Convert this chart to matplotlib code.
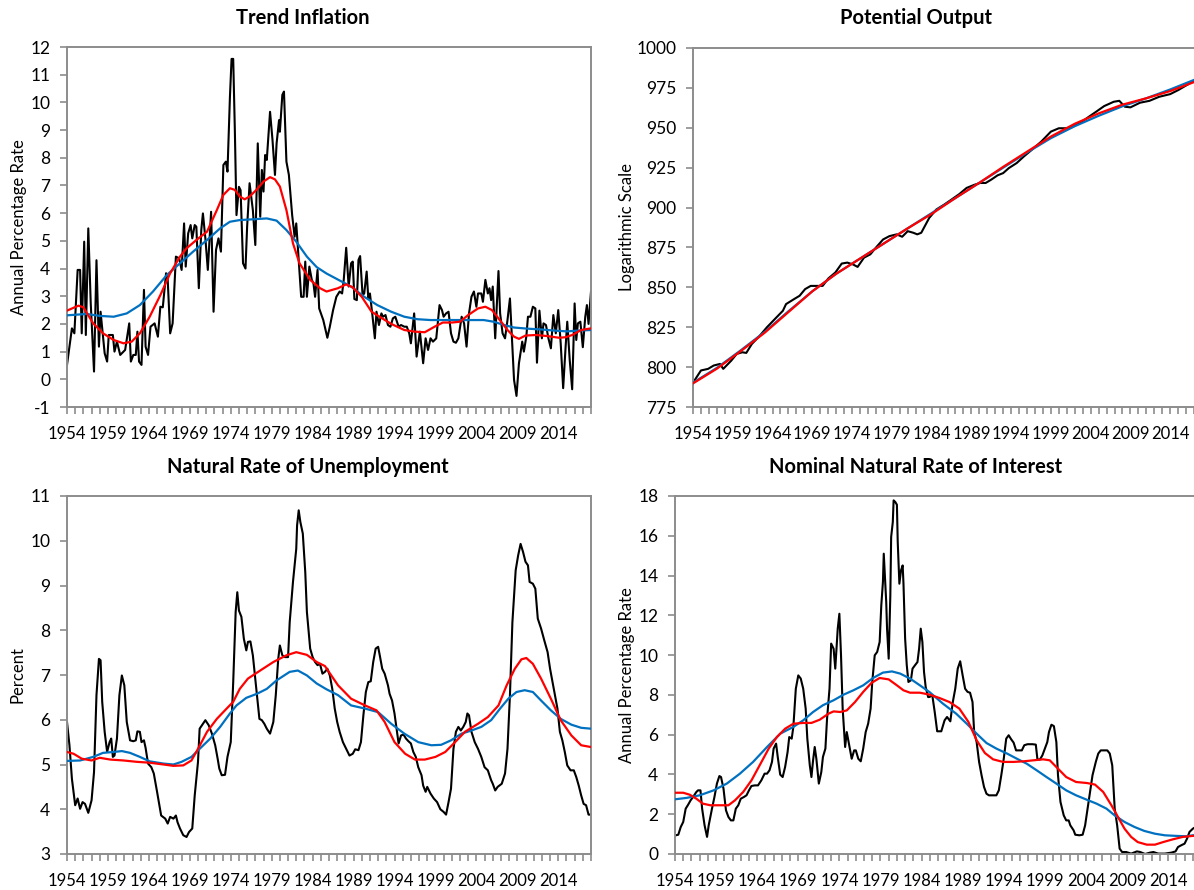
import matplotlib.pyplot as plt
import numpy as np

## Trend inflation, annual percentage rate
infl_actual_x = [1954.0, 1954.6, 1954.9, 1955.3, 1955.6, 1955.8, 1956.1, 1956.3, 1956.6, 1956.9,
                 1957.3, 1957.6, 1957.9, 1958.1, 1958.6, 1958.9, 1959.1, 1959.6, 1959.8, 1960.1,
                 1960.5, 1961.1, 1961.6, 1961.8, 1962.1, 1962.4, 1962.6, 1962.8, 1963.1, 1963.4,
                 1963.6, 1963.9, 1964.2, 1964.7, 1965.1, 1965.4, 1965.7, 1966.1, 1966.3, 1966.6,
                 1966.9, 1967.3, 1967.7, 1968.0, 1968.3, 1968.5, 1968.8, 1969.1, 1969.3, 1969.6,
                 1969.8, 1970.1, 1970.4, 1970.6, 1970.9, 1971.2, 1971.6, 1971.9, 1972.2, 1972.5,
                 1972.8, 1973.1, 1973.4, 1973.6, 1973.9, 1974.1, 1974.3, 1974.5, 1974.7, 1975.0,
                 1975.2, 1975.5, 1975.8, 1976.0, 1976.3, 1976.7, 1977.0, 1977.3, 1977.6, 1977.8,
                 1978.0, 1978.2, 1978.4, 1978.8, 1979.1, 1979.4, 1979.6, 1979.9, 1980.0, 1980.3,
                 1980.5, 1980.8, 1981.1, 1981.5, 1981.8, 1982.0, 1982.4, 1982.6, 1982.9, 1983.1,
                 1983.3, 1983.6, 1983.9, 1984.1, 1984.3, 1984.6, 1984.8, 1985.3, 1985.8, 1986.1,
                 1986.5, 1986.9, 1987.3, 1987.6, 1987.8, 1988.1, 1988.4, 1988.7, 1988.9, 1989.1,
                 1989.4, 1989.6, 1989.8, 1990.1, 1990.3, 1990.6, 1990.8, 1991.0, 1991.3, 1991.6,
                 1991.8, 1992.1, 1992.4, 1992.6, 1992.9, 1993.2, 1993.5, 1993.8, 1994.1, 1994.5,
                 1994.8, 1995.2, 1995.5, 1995.8, 1996.0, 1996.4, 1996.7, 1997.1, 1997.5, 1997.8,
                 1998.1, 1998.4, 1998.7, 1999.1, 1999.5, 1999.8, 2000.0, 2000.3, 2000.6, 2000.9,
                 2001.2, 2001.5, 2001.8, 2002.2, 2002.5, 2002.8, 2003.1, 2003.4, 2003.7, 2004.0,
                 2004.2, 2004.6, 2004.8, 2005.1, 2005.4, 2005.6, 2005.8, 2006.0, 2006.3, 2006.7,
                 2006.9, 2007.2, 2007.5, 2007.8, 2008.1, 2008.4, 2008.6, 2008.9, 2009.2, 2009.6,
                 2009.8, 2010.1, 2010.3, 2010.6, 2010.9, 2011.2, 2011.4, 2011.7, 2012.0, 2012.2,
                 2012.5, 2012.8, 2013.1, 2013.4, 2013.7, 2014.0, 2014.3, 2014.6, 2014.9, 2015.1,
                 2015.4, 2015.7, 2016.0, 2016.2, 2016.4, 2016.7, 2017.0, 2017.3, 2017.5, 2017.7,
                 2018.0]
infl_actual_y = [0.52, 1.84, 1.66, 3.95, 3.95, 1.66, 4.97, 1.6, 5.45, 2.74,
                 0.28, 4.3, 1.18, 2.44, 0.94, 0.64, 1.6, 1.6, 1.0, 1.36,
                 0.88, 1.06, 2.02, 0.64, 0.88, 0.88, 1.72, 0.64, 0.52, 3.23,
                 1.18, 0.88, 1.9, 2.02, 1.54, 2.62, 2.6, 3.83, 3.59, 1.66,
                 2.02, 4.43, 4.37, 3.95, 5.63, 4.07, 5.27, 5.57, 5.09, 5.57,
                 5.51, 3.29, 5.39, 5.99, 5.09, 3.95, 6.05, 2.44, 4.67, 5.09,
                 4.61, 7.74, 7.86, 7.5, 10.2, 11.57, 11.57, 9.0, 5.93, 6.95,
                 6.83, 4.19, 4.0, 5.51, 7.08, 6.11, 4.85, 8.52, 5.87, 7.56,
                 6.78, 8.1, 7.92, 9.66, 8.64, 7.38, 8.52, 9.36, 8.94, 10.27,
                 10.39, 7.86, 7.38, 5.93, 5.15, 5.63, 3.83, 2.98, 2.98, 4.25,
                 2.98, 4.07, 3.59, 3.47, 2.98, 3.95, 2.56, 2.14, 1.5, 1.9,
                 2.5, 2.98, 3.17, 3.1, 3.59, 4.75, 3.35, 4.19, 4.25, 2.9,
                 2.86, 4.31, 4.45, 3.04, 3.1, 3.89, 2.92, 3.1, 2.32, 1.48,
                 2.44, 1.96, 2.38, 2.26, 2.32, 1.96, 1.9, 2.2, 2.26, 1.9,
                 1.96, 1.9, 1.9, 1.66, 1.3, 2.38, 0.82, 1.72, 0.58, 1.48,
                 1.06, 1.48, 1.36, 1.48, 2.68, 2.5, 2.26, 2.38, 2.44, 1.66,
                 1.36, 1.32, 1.48, 2.26, 2.02, 1.18, 2.38, 2.98, 3.17, 2.62,
                 3.1, 3.1, 2.8, 3.59, 3.1, 3.29, 2.86, 3.35, 1.48, 3.91,
                 2.38, 1.66, 1.48, 2.14, 2.92, 1.18, -0.02, -0.6, 0.58, 1.36,
                 1.0, 1.54, 2.26, 2.26, 2.62, 2.56, 0.6, 2.48, 1.48, 2.02,
                 1.96, 1.48, 1.12, 2.32, 1.66, 2.5, 1.3, -0.32, 1.18, 2.08,
                 0.7, -0.36, 2.74, 1.42, 2.02, 2.08, 1.16, 2.26, 2.68, 2.0,
                 3.17]
infl_red_x = [1954.0, 1955.4, 1956.0, 1957.2, 1958.4, 1959.7, 1960.9, 1961.9, 1962.9, 1964.1,
              1965.4, 1966.6, 1967.8, 1968.6, 1969.8, 1971.1, 1972.3, 1973.1, 1973.9, 1974.5,
              1975.1, 1975.7, 1976.3, 1977.2, 1978.0, 1978.8, 1979.4, 1980.0, 1980.8, 1981.6,
              1982.4, 1983.7, 1984.9, 1985.7, 1987.1, 1988.1, 1988.9, 1990.0, 1991.2, 1992.5,
              1993.6, 1995.2, 1996.5, 1997.7, 1998.9, 1999.9, 2001.0, 2002.0, 2003.0, 2004.2,
              2005.1, 2005.9, 2006.7, 2007.8, 2008.6, 2009.2, 2010.0, 2011.3, 2012.7, 2014.1,
              2014.9, 2015.7, 2016.8, 2018.0]
infl_red_y = [2.48, 2.66, 2.6, 2.02, 1.66, 1.42, 1.3, 1.36, 1.66, 2.26,
              3.04, 3.83, 4.43, 4.73, 5.03, 5.33, 6.11, 6.66, 6.9, 6.84,
              6.6, 6.5, 6.6, 6.86, 7.14, 7.3, 7.22, 6.96, 6.11, 4.91,
              4.19, 3.59, 3.29, 3.17, 3.29, 3.43, 3.32, 2.98, 2.44, 2.2,
              2.0, 1.78, 1.72, 1.7, 1.9, 2.05, 2.05, 2.08, 2.32, 2.56,
              2.62, 2.5, 2.2, 1.78, 1.54, 1.46, 1.58, 1.6, 1.56, 1.5,
              1.52, 1.6, 1.78, 1.84]
infl_blue_x = [1954.0, 1956.4, 1958.0, 1959.7, 1961.3, 1962.9, 1964.5, 1966.2, 1967.8, 1969.4,
               1971.1, 1972.7, 1973.9, 1975.1, 1976.8, 1978.4, 1979.6, 1980.8, 1982.0, 1983.3,
               1984.5, 1985.7, 1987.1, 1988.7, 1990.3, 1991.9, 1993.6, 1995.2, 1996.8, 1998.4,
               2000.1, 2001.7, 2003.3, 2004.9, 2006.1, 2007.4, 2008.6, 2010.2, 2011.9, 2013.5,
               2015.1, 2016.4, 2018.0]
infl_blue_y = [2.31, 2.36, 2.29, 2.26, 2.38, 2.68, 3.17, 3.77, 4.19, 4.61,
               5.03, 5.45, 5.69, 5.75, 5.78, 5.81, 5.73, 5.39, 4.97, 4.43,
               4.05, 3.82, 3.6, 3.35, 2.98, 2.68, 2.44, 2.26, 2.17, 2.14,
               2.14, 2.14, 2.14, 2.14, 2.08, 1.96, 1.87, 1.83, 1.8, 1.76,
               1.73, 1.76, 1.78]

## Potential output, logarithmic scale
pot_actual_x = [1954.0, 1955.0, 1955.9, 1956.6, 1957.4, 1957.8, 1958.8, 1959.5, 1960.2, 1960.7,
                1961.4, 1962.4, 1963.3, 1964.5, 1965.3, 1965.7, 1966.7, 1967.4, 1968.1, 1968.8,
                1969.6, 1970.3, 1971.0, 1971.9, 1972.7, 1973.4, 1974.1, 1974.7, 1975.5, 1976.3,
                1977.0, 1977.9, 1978.7, 1979.6, 1980.3, 1981.0, 1981.7, 1982.2, 1982.7, 1983.7,
                1984.6, 1985.6, 1986.5, 1987.5, 1988.4, 1989.4, 1990.1, 1990.8, 1991.5, 1992.3,
                1993.0, 1993.7, 1994.7, 1995.6, 1996.6, 1997.8, 1999.0, 2000.0, 2000.9, 2001.6,
                2002.6, 2003.8, 2004.7, 2005.7, 2006.9, 2007.6, 2008.3, 2009.0, 2010.2, 2011.4,
                2012.6, 2014.0, 2015.0, 2016.2, 2017.3, 2018.0]
pot_actual_y = [790.2, 797.9, 798.9, 801.0, 802.0, 798.9, 804.0, 808.3, 809.3, 808.9,
                814.5, 819.7, 825.0, 831.2, 835.3, 839.5, 842.6, 844.7, 848.9, 850.9,
                850.9, 850.9, 855.5, 859.3, 864.9, 865.5, 864.4, 862.8, 868.6, 870.7,
                874.9, 880.0, 882.1, 883.2, 881.7, 885.2, 884.2, 883.2, 884.2, 893.5,
                898.8, 901.9, 905.0, 908.5, 912.3, 914.3, 915.4, 915.4, 917.5, 920.2,
                921.6, 924.7, 927.9, 932.0, 936.2, 941.4, 947.6, 949.7, 949.7, 950.3,
                952.8, 957.0, 960.1, 963.6, 966.3, 966.9, 963.2, 962.8, 965.7, 966.9,
                969.4, 971.1, 973.6, 977.1, 980.5, 982.0]
pot_smooth_x = [1954, 1957, 1960, 1963, 1966, 1969, 1972, 1975, 1978, 1981, 1984,
                1987, 1990, 1993, 1996, 1999, 2002, 2005, 2008, 2011, 2014, 2018]
pot_blue_y = [790.2, 799.5, 810.5, 822.0, 835.0, 847.5, 858.5, 868.0, 877.5, 887.0, 896.5,
              906.0, 915.5, 925.0, 934.5, 943.5, 951.0, 957.5, 963.5, 968.5, 974.0, 982.0]
pot_red_y = [789.8, 799.0, 810.0, 821.5, 834.5, 847.5, 858.5, 868.0, 877.5, 887.0, 896.0,
             906.0, 915.5, 925.5, 935.0, 944.5, 952.5, 959.0, 964.5, 968.5, 973.0, 980.5]

## Natural rate of unemployment, percent
unemp_actual_x = [1954.0, 1954.3, 1954.6, 1955.0, 1955.3, 1955.6, 1955.9, 1956.2, 1956.6, 1957.0,
                  1957.3, 1957.6, 1957.9, 1958.1, 1958.3, 1958.6, 1958.9, 1959.2, 1959.4, 1959.6,
                  1959.8, 1960.1, 1960.4, 1960.7, 1961.0, 1961.3, 1961.7, 1962.1, 1962.4, 1962.6,
                  1962.9, 1963.1, 1963.4, 1963.6, 1963.9, 1964.3, 1964.6, 1965.0, 1965.5, 1966.0,
                  1966.3, 1966.6, 1967.0, 1967.3, 1967.5, 1967.8, 1968.2, 1968.6, 1968.9, 1969.3,
                  1969.6, 1970.0, 1970.2, 1970.6, 1970.9, 1971.3, 1971.7, 1972.1, 1972.4, 1972.6,
                  1972.9, 1973.3, 1973.6, 1974.0, 1974.3, 1974.6, 1974.8, 1975.0, 1975.3, 1975.6,
                  1975.9, 1976.1, 1976.4, 1976.7, 1977.0, 1977.2, 1977.5, 1977.8, 1978.1, 1978.4,
                  1978.8, 1979.2, 1979.5, 1979.8, 1980.0, 1980.3, 1980.6, 1981.0, 1981.2, 1981.6,
                  1982.0, 1982.1, 1982.3, 1982.5, 1982.8, 1983.1, 1983.3, 1983.7, 1984.0, 1984.3,
                  1984.6, 1984.9, 1985.2, 1985.5, 1985.8, 1986.1, 1986.4, 1986.7, 1987.0, 1987.3,
                  1987.7, 1988.1, 1988.5, 1988.9, 1989.2, 1989.6, 1989.9, 1990.2, 1990.5, 1990.8,
                  1991.1, 1991.4, 1991.7, 1992.0, 1992.2, 1992.5, 1992.8, 1993.2, 1993.4, 1993.7,
                  1994.0, 1994.3, 1994.5, 1994.8, 1995.1, 1995.4, 1995.7, 1996.0, 1996.3, 1996.6,
                  1996.9, 1997.3, 1997.5, 1997.8, 1998.0, 1998.4, 1998.8, 1999.2, 1999.6, 2000.0,
                  2000.3, 2000.6, 2000.9, 2001.2, 2001.5, 2001.8, 2002.1, 2002.4, 2002.7, 2002.9,
                  2003.1, 2003.4, 2003.8, 2004.2, 2004.6, 2005.0, 2005.4, 2005.8, 2006.0, 2006.3,
                  2006.6, 2007.1, 2007.5, 2007.8, 2008.1, 2008.4, 2008.8, 2009.1, 2009.4, 2009.7,
                  2010.0, 2010.3, 2010.5, 2010.9, 2011.2, 2011.5, 2011.9, 2012.3, 2012.7, 2013.0,
                  2013.3, 2013.6, 2013.9, 2014.2, 2014.5, 2014.8, 2015.1, 2015.5, 2015.9, 2016.2,
                  2016.5, 2016.8, 2017.1, 2017.4, 2017.7, 2018.0]
unemp_actual_y = [5.95, 5.43, 4.68, 4.09, 4.24, 4.01, 4.16, 4.12, 3.92, 4.2,
                  4.83, 6.55, 7.36, 7.33, 6.4, 5.73, 5.28, 5.5, 5.58, 5.17,
                  5.2, 5.58, 6.55, 6.99, 6.77, 5.95, 5.54, 5.52, 5.54, 5.74,
                  5.73, 5.5, 5.54, 5.37, 5.02, 4.94, 4.8, 4.39, 3.86, 3.79,
                  3.68, 3.83, 3.79, 3.86, 3.71, 3.57, 3.42, 3.38, 3.49, 3.57,
                  4.31, 5.06, 5.8, 5.91, 5.99, 5.88, 5.69, 5.43, 5.13, 4.91,
                  4.76, 4.77, 5.17, 5.5, 6.84, 8.41, 8.85, 8.44, 8.3, 7.81,
                  7.55, 7.74, 7.75, 7.44, 6.92, 6.55, 6.02, 5.99, 5.91, 5.8,
                  5.69, 5.95, 6.55, 7.36, 7.66, 7.44, 7.4, 7.4, 8.18, 9.08,
                  9.82, 10.34, 10.68, 10.42, 10.16, 9.3, 8.41, 7.59, 7.4, 7.29,
                  7.22, 7.25, 7.03, 7.07, 7.14, 6.99, 6.69, 6.25, 5.95, 5.73,
                  5.5, 5.35, 5.2, 5.24, 5.34, 5.32, 5.5, 6.1, 6.62, 6.84,
                  6.86, 7.29, 7.59, 7.63, 7.44, 7.14, 7.03, 6.77, 6.58, 6.43,
                  6.14, 5.73, 5.47, 5.65, 5.67, 5.58, 5.52, 5.47, 5.28, 5.17,
                  4.94, 4.76, 4.53, 4.39, 4.5, 4.35, 4.24, 4.16, 4.0, 3.94,
                  3.88, 4.16, 4.46, 5.35, 5.73, 5.84, 5.76, 5.84, 5.95, 6.14,
                  6.1, 5.73, 5.5, 5.35, 5.17, 4.94, 4.87, 4.65, 4.57, 4.42,
                  4.5, 4.57, 4.8, 5.35, 6.55, 8.18, 9.34, 9.67, 9.93, 9.75,
                  9.53, 9.45, 9.08, 9.04, 8.93, 8.26, 8.04, 7.77, 7.51, 7.14,
                  6.84, 6.55, 6.25, 5.73, 5.54, 5.28, 4.98, 4.87, 4.87, 4.72,
                  4.53, 4.31, 4.12, 4.09, 3.88, 3.88]
unemp_red_x = [1954.0, 1954.8, 1955.8, 1957.0, 1958.0, 1959.3, 1960.9, 1962.5, 1964.1, 1965.8,
               1967.0, 1968.2, 1969.2, 1970.0, 1971.1, 1972.3, 1973.5, 1974.3, 1975.1, 1976.1,
               1977.6, 1979.2, 1980.8, 1982.0, 1983.3, 1984.5, 1985.5, 1987.1, 1988.7, 1990.4,
               1991.8, 1992.8, 1994.0, 1995.3, 1996.5, 1997.7, 1999.0, 2000.2, 2001.4, 2002.6,
               2004.2, 2005.4, 2006.7, 2007.7, 2008.7, 2009.5, 2010.1, 2010.9, 2011.9, 2013.1,
               2014.3, 2015.6, 2016.8, 2018.0]
unemp_red_y = [5.28, 5.24, 5.13, 5.09, 5.15, 5.11, 5.09, 5.06, 5.04, 5.0,
               4.97, 4.98, 5.09, 5.35, 5.73, 6.02, 6.25, 6.4, 6.69, 6.92,
               7.1, 7.29, 7.44, 7.51, 7.45, 7.29, 7.2, 6.77, 6.47, 6.32,
               6.21, 5.95, 5.5, 5.24, 5.11, 5.11, 5.17, 5.28, 5.5, 5.73,
               5.91, 6.06, 6.32, 6.77, 7.14, 7.35, 7.38, 7.25, 6.92, 6.47,
               5.99, 5.65, 5.43, 5.39]
unemp_blue_x = [1954.0, 1955.6, 1957.2, 1958.4, 1959.7, 1960.7, 1961.7, 1962.9, 1964.1, 1965.8,
                1967.0, 1968.0, 1969.2, 1970.2, 1971.5, 1972.7, 1973.9, 1974.7, 1975.9, 1977.2,
                1978.4, 1979.6, 1981.2, 1982.2, 1983.3, 1984.5, 1985.7, 1987.1, 1988.7, 1990.4,
                1992.0, 1993.6, 1995.2, 1996.9, 1998.5, 1999.7, 2000.9, 2002.2, 2003.4, 2004.6,
                2005.8, 2006.9, 2007.9, 2008.9, 2009.9, 2010.9, 2011.9, 2013.1, 2014.3, 2015.6,
                2016.8, 2018.0]
unemp_blue_y = [5.08, 5.09, 5.17, 5.26, 5.28, 5.3, 5.26, 5.17, 5.07, 5.02,
                5.0, 5.06, 5.17, 5.35, 5.58, 5.84, 6.14, 6.32, 6.49, 6.58,
                6.69, 6.88, 7.07, 7.1, 6.99, 6.81, 6.68, 6.55, 6.32, 6.25,
                6.17, 5.91, 5.69, 5.5, 5.43, 5.44, 5.54, 5.69, 5.76, 5.84,
                5.99, 6.25, 6.47, 6.62, 6.66, 6.62, 6.43, 6.21, 6.02, 5.89,
                5.82, 5.8]

## Nominal natural rate of interest, annual percentage rate
rate_actual_x = [1954.1, 1954.4, 1954.7, 1955.0, 1955.3, 1955.6, 1955.9, 1956.2, 1956.6, 1956.8,
                 1957.1, 1957.3, 1957.6, 1957.9, 1958.1, 1958.5, 1958.8, 1959.1, 1959.4, 1959.6,
                 1959.9, 1960.2, 1960.5, 1960.8, 1961.1, 1961.4, 1961.7, 1962.0, 1962.4, 1962.7,
                 1963.0, 1963.3, 1963.7, 1964.1, 1964.5, 1964.9, 1965.2, 1965.5, 1965.8, 1966.0,
                 1966.3, 1966.5, 1966.8, 1967.1, 1967.4, 1967.7, 1967.9, 1968.2, 1968.4, 1968.7,
                 1969.0, 1969.3, 1969.6, 1969.9, 1970.1, 1970.4, 1970.6, 1970.8, 1971.0, 1971.2,
                 1971.5, 1971.8, 1972.0, 1972.3, 1972.5, 1972.8, 1973.0, 1973.3, 1973.5, 1973.8,
                 1974.0, 1974.2, 1974.4, 1974.7, 1974.9, 1975.2, 1975.5, 1975.8, 1976.0, 1976.3,
                 1976.6, 1976.9, 1977.2, 1977.5, 1977.8, 1978.0, 1978.3, 1978.6, 1978.9, 1979.1,
                 1979.3, 1979.4, 1979.7, 1979.8, 1980.0, 1980.2, 1980.3, 1980.5, 1980.6, 1980.8,
                 1981.0, 1981.1, 1981.3, 1981.5, 1981.7, 1981.8, 1982.0, 1982.2, 1982.4, 1982.7,
                 1982.9, 1983.2, 1983.5, 1983.7, 1983.9, 1984.1, 1984.3, 1984.5, 1984.8, 1985.0,
                 1985.3, 1985.6, 1985.9, 1986.4, 1986.8, 1987.1, 1987.5, 1987.8, 1988.1, 1988.4,
                 1988.7, 1989.0, 1989.3, 1989.6, 1989.9, 1990.2, 1990.4, 1990.7, 1991.0, 1991.3,
                 1991.6, 1991.9, 1992.2, 1992.7, 1993.1, 1993.4, 1993.7, 1994.0, 1994.3, 1994.6,
                 1994.9, 1995.2, 1995.5, 1995.8, 1996.2, 1996.5, 1996.9, 1997.5, 1997.9, 1998.1,
                 1998.4, 1998.7, 1999.0, 1999.3, 1999.5, 1999.8, 2000.1, 2000.4, 2000.6, 2000.9,
                 2001.3, 2001.6, 2001.9, 2002.1, 2002.5, 2002.7, 2003.2, 2003.6, 2003.9, 2004.2,
                 2004.5, 2004.8, 2005.2, 2005.5, 2005.8, 2006.2, 2006.6, 2006.9, 2007.2, 2007.5,
                 2007.8, 2008.1, 2008.4, 2008.9, 2009.5, 2010.2, 2010.6, 2011.2, 2011.8, 2012.2,
                 2012.8, 2013.6, 2014.4, 2014.9, 2015.2, 2015.6, 2016.0, 2016.3, 2016.6, 2017.0,
                 2017.5, 2018.0]
rate_actual_y = [0.94, 0.97, 1.36, 1.61, 2.28, 2.48, 2.7, 2.87, 3.12, 3.2,
                 3.2, 2.28, 1.44, 0.86, 1.44, 2.28, 2.87, 3.54, 3.92, 3.87,
                 3.29, 2.2, 1.86, 1.69, 1.69, 2.28, 2.45, 2.78, 2.87, 2.95,
                 3.2, 3.42, 3.45, 3.45, 3.7, 4.04, 4.04, 4.21, 4.63, 5.3,
                 5.55, 4.88, 3.99, 3.87, 4.38, 5.13, 5.88, 5.8, 6.39, 8.31,
                 8.98, 8.82, 8.31, 7.31, 5.8, 4.46, 3.87, 4.71, 5.38, 4.79,
                 3.54, 4.12, 4.88, 5.3, 6.8, 8.31, 10.58, 10.32, 9.32, 11.33,
                 12.08, 9.99, 7.31, 5.38, 6.13, 5.47, 4.79, 5.21, 5.21, 4.79,
                 4.66, 5.3, 6.13, 6.55, 7.31, 8.65, 9.99, 10.16, 10.66, 12.5,
                 13.68, 15.1, 12.67, 11.33, 9.82, 13.0, 15.94, 16.69, 17.78, 17.7,
                 17.56, 15.69, 13.59, 14.26, 14.51, 13.59, 10.83, 9.49, 8.65, 8.73,
                 9.32, 9.49, 9.65, 10.32, 11.33, 10.66, 9.15, 8.4, 7.89, 7.9,
                 8.0, 7.14, 6.17, 6.17, 6.72, 6.89, 6.67, 7.64, 8.31, 9.32,
                 9.69, 8.98, 8.31, 8.15, 8.11, 7.64, 6.13, 5.63, 4.63, 3.96,
                 3.37, 3.03, 2.95, 2.95, 2.95, 3.2, 3.96, 4.79, 5.8, 5.97,
                 5.77, 5.6, 5.21, 5.21, 5.21, 5.47, 5.52, 5.52, 5.5, 4.75,
                 4.75, 4.96, 5.3, 5.63, 6.13, 6.5, 6.43, 5.63, 3.96, 2.62,
                 1.94, 1.69, 1.69, 1.44, 1.19, 0.97, 0.94, 0.97, 1.44, 2.28,
                 3.12, 3.96, 4.63, 5.05, 5.21, 5.21, 5.21, 5.05, 4.46, 2.28,
                 1.44, 0.27, 0.1, 0.1, 0.02, 0.13, 0.1, 0.0, 0.07, 0.1,
                 0.02, 0.02, 0.07, 0.13, 0.35, 0.44, 0.52, 0.77, 1.11, 1.27,
                 1.4, 1.5]
rate_red_x = [1954.0, 1955.0, 1955.8, 1956.6, 1957.4, 1958.3, 1959.5, 1960.5, 1961.3, 1962.3,
              1963.3, 1964.3, 1965.4, 1966.4, 1967.4, 1968.4, 1969.6, 1970.6, 1971.6, 1972.7,
              1973.3, 1974.1, 1974.9, 1975.9, 1976.9, 1977.9, 1978.9, 1980.0, 1981.0, 1981.8,
              1982.6, 1983.8, 1985.0, 1986.2, 1987.4, 1988.6, 1989.7, 1990.7, 1991.7, 1992.7,
              1993.9, 1995.2, 1996.4, 1997.6, 1998.8, 1999.6, 2000.6, 2001.6, 2002.8, 2004.1,
              2005.1, 2006.1, 2007.1, 2007.9, 2008.7, 2009.5, 2010.3, 2011.4, 2012.4, 2013.4,
              2014.6, 2015.8, 2017.0, 2018.0]
rate_red_y = [3.08, 3.08, 2.98, 2.78, 2.53, 2.45, 2.45, 2.45, 2.7, 3.12,
              3.7, 4.46, 5.3, 5.88, 6.3, 6.55, 6.59, 6.59, 6.75, 7.06,
              7.17, 7.14, 7.22, 7.64, 8.15, 8.6, 8.85, 8.78, 8.48, 8.23,
              8.11, 8.11, 8.01, 7.84, 7.64, 7.31, 6.64, 5.72, 5.08, 4.76,
              4.63, 4.63, 4.66, 4.71, 4.76, 4.71, 4.29, 3.87, 3.62, 3.57,
              3.49, 3.12, 2.45, 1.86, 1.27, 0.86, 0.6, 0.47, 0.47, 0.6,
              0.74, 0.86, 0.91, 0.95]
rate_blue_x = [1954.0, 1955.4, 1957.0, 1958.7, 1960.3, 1961.9, 1963.5, 1965.2, 1966.8, 1968.4,
               1969.6, 1970.8, 1972.0, 1973.3, 1974.5, 1975.7, 1976.9, 1978.1, 1979.3, 1980.4,
               1981.4, 1982.6, 1983.8, 1985.0, 1986.6, 1988.2, 1989.5, 1990.7, 1991.9, 1993.1,
               1994.4, 1995.6, 1996.8, 1998.0, 1999.2, 2000.4, 2001.6, 2002.8, 2004.1, 2005.3,
               2006.5, 2007.5, 2008.7, 2009.9, 2011.1, 2012.4, 2013.6, 2015.0, 2016.2, 2017.0,
               2018.0]
rate_blue_y = [2.75, 2.82, 2.95, 3.2, 3.54, 4.04, 4.63, 5.38, 6.05, 6.39,
               6.72, 7.14, 7.48, 7.73, 8.01, 8.23, 8.48, 8.85, 9.12, 9.18,
               9.07, 8.82, 8.48, 8.13, 7.56, 7.06, 6.55, 6.05, 5.58, 5.3,
               5.05, 4.79, 4.54, 4.21, 3.87, 3.54, 3.2, 2.95, 2.73, 2.53,
               2.28, 1.94, 1.61, 1.36, 1.16, 1.02, 0.94, 0.91, 0.89, 0.94,
               0.96]

year_ticks = list(range(1954, 2019))
RED = '#FF0000'
BLUE = '#0070C0'
GRAY = '#8C8C8C'
W, H = 1194, 890


def px_axes(fig, left, top, right, bottom):
    # figure pixels (origin top-left) -> axes
    return fig.add_axes([left / W, 1 - bottom / H, (right - left) / W, (bottom - top) / H])


def style_axis(ax, ymin, ymax, ystep):
    ax.set_xlim(1954, 2018)
    ax.set_ylim(ymin, ymax)
    ax.set_xticks(year_ticks)
    ax.set_xticklabels([str(y) if (y - 1954) % 5 == 0 and y <= 2014 else '' for y in year_ticks])
    ax.set_yticks(np.arange(ymin, ymax + ystep / 2, ystep))
    for s in ax.spines.values():
        s.set_color(GRAY)
        s.set_linewidth(1.4)
    ax.tick_params(axis='both', colors=GRAY, labelcolor='black', length=5, width=1.2)
    ax.tick_params(axis='x', pad=9, labelsize=12)
    ax.tick_params(axis='y', pad=7, labelsize=12.5)


def draw(ax, actual, red, blue):
    ax.plot(actual[0], actual[1], color='black', lw=1.5, zorder=2)
    ax.plot(blue[0], blue[1], color=BLUE, lw=1.6, zorder=3)
    ax.plot(red[0], red[1], color=RED, lw=1.6, zorder=4)


def main():
    plt.rcParams['font.family'] = ['Lato', 'DejaVu Sans']
    plt.rcParams['axes.unicode_minus'] = False
    fig = plt.figure(figsize=(W / 100, H / 100), dpi=100)

    ax1 = px_axes(fig, 67, 47, 591, 407)
    draw(ax1, (infl_actual_x, infl_actual_y), (infl_red_x, infl_red_y), (infl_blue_x, infl_blue_y))
    style_axis(ax1, -1, 12, 1)

    ax2 = px_axes(fig, 693, 48, 1202, 407)
    draw(ax2, (pot_actual_x, pot_actual_y), (pot_smooth_x, pot_red_y), (pot_smooth_x, pot_blue_y))
    style_axis(ax2, 775, 1000, 25)

    ax3 = px_axes(fig, 67, 496, 591, 854)
    draw(ax3, (unemp_actual_x, unemp_actual_y), (unemp_red_x, unemp_red_y), (unemp_blue_x, unemp_blue_y))
    style_axis(ax3, 3, 11, 1)

    ax4 = px_axes(fig, 675, 496, 1201, 854)
    draw(ax4, (rate_actual_x, rate_actual_y), (rate_red_x, rate_red_y), (rate_blue_x, rate_blue_y))
    style_axis(ax4, 0, 18, 2)

    titles = [('Trend Inflation', 303, 18), ('Potential Output', 916, 18),
              ('Natural Rate of Unemployment', 308, 467), ('Nominal Natural Rate of Interest', 916, 467)]
    for t, x, y in titles:
        fig.text(x / W, 1 - y / H, t, ha='center', va='center', fontsize=14.5, fontweight='bold')

    ylabels = [('Annual Percentage Rate', 19, 227), ('Logarithmic Scale', 627, 227),
               ('Percent', 18, 675), ('Annual Percentage Rate', 627, 675)]
    for t, x, y in ylabels:
        fig.text(x / W, 1 - y / H, t, ha='center', va='center', rotation=90, fontsize=12)

    fig.savefig('out.png', dpi=100)


if __name__ == '__main__':
    main()
